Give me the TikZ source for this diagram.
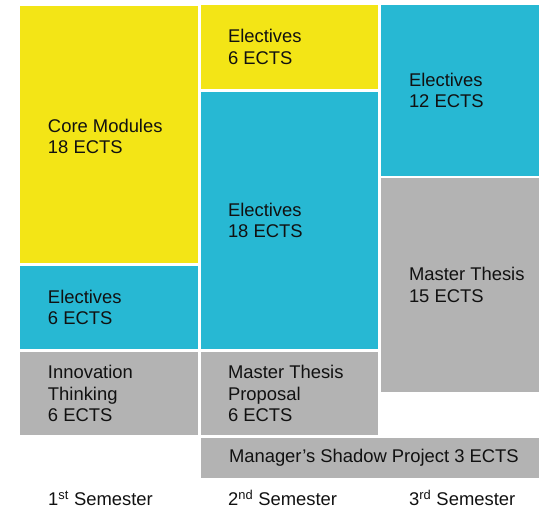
\documentclass[tikz,border=0pt]{standalone}
\usepackage{fontspec}
\setmainfont{Liberation Sans}
\definecolor{cyel}{HTML}{F3E516}
\definecolor{ccyan}{HTML}{27B8D3}
\definecolor{cgrey}{HTML}{B3B3B3}
\definecolor{ctext}{HTML}{111111}
\begin{document}
\begin{tikzpicture}[x=1pt,y=-1pt,
  box/.style={anchor=north west, inner sep=0pt, outer sep=0pt, draw=none},
  txt/.style={anchor=west, inner sep=0pt, outer sep=0pt, align=left, text=ctext,
    font=\fontsize{18.4}{21.5}\selectfont},
  sem/.style={anchor=base west, inner sep=0pt, text=ctext,
    font=\fontsize{18.4}{21.5}\selectfont}]
\useasboundingbox (0,0) rectangle (539,510);
% column 1
\node[box, fill=cyel,  minimum width=178pt, minimum height=257pt] (core) at (20,6) {};
\node[box, fill=ccyan, minimum width=178pt, minimum height=83pt]  (elA)  at (20,266) {};
\node[box, fill=cgrey, minimum width=178pt, minimum height=83pt]  (inno) at (20,352) {};
% column 2
\node[box, fill=cyel,  minimum width=177pt, minimum height=84pt]  (elB)  at (201,5) {};
\node[box, fill=ccyan, minimum width=177pt, minimum height=257pt] (elC)  at (201,92) {};
\node[box, fill=cgrey, minimum width=177pt, minimum height=83pt]  (mtp)  at (201,352) {};
% column 3
\node[box, fill=ccyan, minimum width=158pt, minimum height=171pt] (elD)  at (381,5) {};
\node[box, fill=cgrey, minimum width=158pt, minimum height=214pt] (mt)   at (381,178) {};
% bottom bar
\node[box, fill=cgrey, minimum width=338pt, minimum height=40pt]  (mgr)  at (201,438) {};
% texts
\node[txt] (coreT) at ([xshift=28pt,yshift=-2pt]core.west) {Core Modules\\18 ECTS};
\node[txt] (elAT)  at ([xshift=28pt]elA.west)  {Electives\\6 ECTS};
\node[txt] (innoT) at ([xshift=28pt]inno.west) {Innovation\\Thinking\\6 ECTS};
\node[txt] (elBT)  at ([xshift=27pt]elB.west)  {Electives\\6 ECTS};
\node[txt] (elCT)  at ([xshift=27pt]elC.west)  {Electives\\18 ECTS};
\node[txt] (mtpT)  at ([xshift=27pt]mtp.west)  {Master Thesis\\Proposal\\6 ECTS};
\node[txt] (elDT)  at ([xshift=28pt]elD.west)  {Electives\\12 ECTS};
\node[txt] (mtT)   at ([xshift=28pt]mt.west)   {Master Thesis\\15 ECTS};
\node[txt] (mgrT)  at ([xshift=28pt]mgr.west)  {Manager’s Shadow Project 3 ECTS};
% semester labels
\node[sem] (s1) at (48,506)  {1\textsuperscript{st} Semester};
\node[sem] (s2) at (228,506) {2\textsuperscript{nd} Semester};
\node[sem] (s3) at (409,506) {3\textsuperscript{rd} Semester};
\end{tikzpicture}
\end{document}
